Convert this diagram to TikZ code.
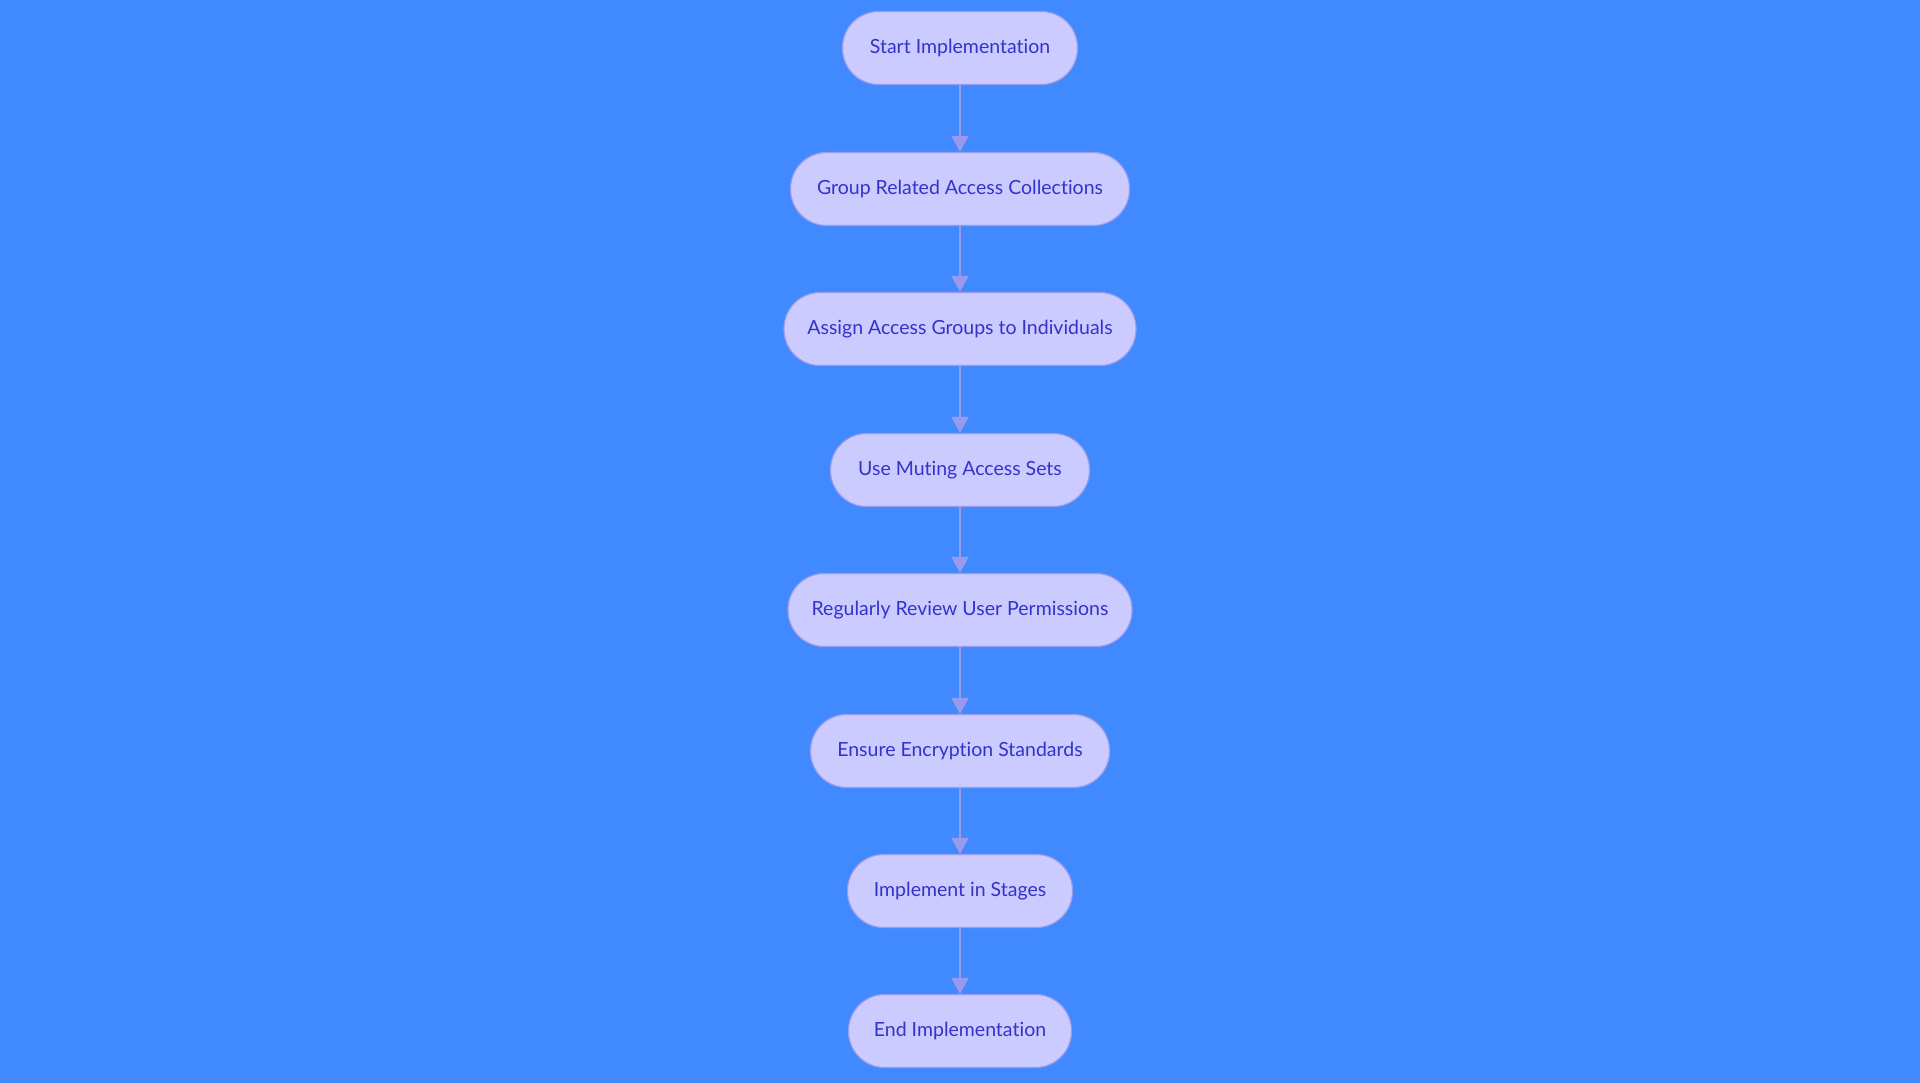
\documentclass[tikz,border=0pt]{standalone}
\usepackage{fontspec}
\setmainfont{Lato}[Ligatures={NoCommon,NoRare,NoDiscretionary}]
\usetikzlibrary{arrows.meta}
\definecolor{bg}{RGB}{64,137,255}
\definecolor{nfill}{RGB}{203,203,255}
\definecolor{nborder}{RGB}{155,155,235}
\definecolor{ntext}{RGB}{51,51,204}
\definecolor{arr}{RGB}{153,153,238}
\begin{document}
\begin{tikzpicture}[x=1pt,y=-1pt,
  stepbox/.style={draw=nborder,line width=1.2pt,fill=nfill,text=ntext,
    rounded corners=36pt,minimum height=73pt,inner sep=0pt,
    font=\fontsize{19.5}{23}\selectfont},
  flow/.style={draw=arr,line width=2.2pt,-{Triangle[length=16pt,width=17pt]}}]
\fill[bg] (0,0) rectangle (1920,1083);
\useasboundingbox (0,0) rectangle (1920,1083);
\node[stepbox,minimum width=235pt] (n1) at (960,48) {Start Implementation};
\node[stepbox,minimum width=339pt] (n2) at (960,189) {Group Related Access Collections};
\node[stepbox,minimum width=352pt] (n3) at (960,329) {Assign Access Groups to Individuals};
\node[stepbox,minimum width=259pt] (n4) at (960,470) {Use Muting Access Sets};
\node[stepbox,minimum width=344pt] (n5) at (960,610) {Regularly Review User Permissions};
\node[stepbox,minimum width=299pt] (n6) at (960,751) {Ensure Encryption Standards};
\node[stepbox,minimum width=225pt] (n7) at (960,891) {Implement in Stages};
\node[stepbox,minimum width=223pt] (n8) at (960,1031) {End Implementation};
\foreach \a/\b in {n1/n2,n2/n3,n3/n4,n4/n5,n5/n6,n6/n7,n7/n8}
  \draw[flow] (\a) -- (\b);
\end{tikzpicture}
\end{document}
